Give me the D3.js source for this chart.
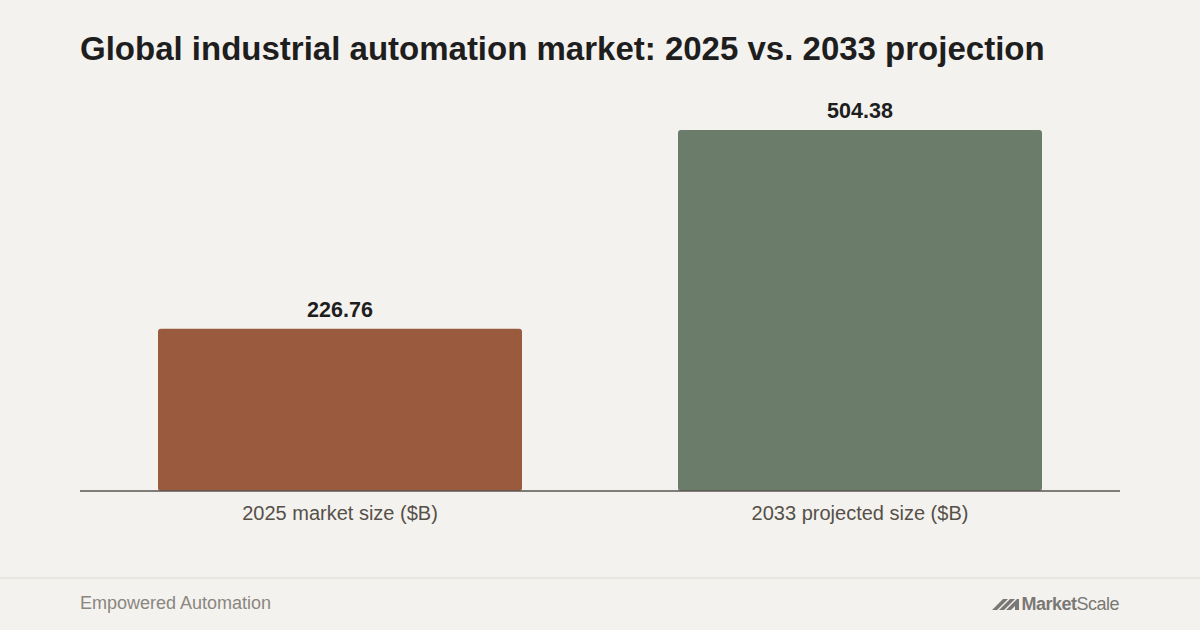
<!DOCTYPE html>
<html><head><meta charset="utf-8">
<script src="https://cdn.jsdelivr.net/npm/d3@7"></script>
<style>html,body{margin:0;padding:0;background:#f4f2ee;}svg{display:block;font-family:"Liberation Sans",Arial,Helvetica,sans-serif;}</style>
</head><body>
<script>
const categories = ["2025 market size ($B)", "2033 projected size ($B)"];
const values = [226.76, 504.38];
const valueLabels = ["226.76", "504.38"];
const colors = ["#9a5a3e", "#6b7d6a"];
const title = "Global industrial automation market: 2025 vs. 2033 projection";
const footerText = "Empowered Automation";

const W = 1200, H = 630;
const svg = d3.select("body").append("svg").attr("width", W).attr("height", H);
svg.append("rect").attr("width", W).attr("height", H).attr("fill", "#f4f2ee");

svg.append("text").attr("x", 80).attr("y", 60).attr("font-size", 33).attr("font-weight", 700)
  .attr("fill", "#1e1e1e").text(title);

const m = {left: 80, right: 1120, top: 94, bottom: 491};
const x = d3.scaleBand().domain(categories).range([m.left, m.right]).paddingInner(0.3).paddingOuter(0.15);
const y = d3.scaleLinear().domain([0, 554.8]).range([m.bottom, m.top]);

const data = categories.map((c, i) => ({c, v: values[i], l: valueLabels[i], col: colors[i]}));

const r = 3;
svg.append("g").selectAll("path").data(data).join("path")
  .attr("fill", d => d.col)
  .attr("d", d => {
    const x0 = x(d.c), x1 = x0 + x.bandwidth(), y0 = y(d.v), y1 = y(0);
    return `M${x0},${y1-r} L${x0},${y0+r} Q${x0},${y0} ${x0+r},${y0} L${x1-r},${y0} Q${x1},${y0} ${x1},${y0+r} L${x1},${y1-r} Q${x1},${y1} ${x1-r},${y1} L${x0+r},${y1} Q${x0},${y1} ${x0},${y1-r} Z`;
  });

svg.append("g").selectAll("text").data(data).join("text")
  .attr("x", d => x(d.c) + x.bandwidth()/2).attr("y", d => y(d.v) - 12)
  .attr("text-anchor", "middle").attr("font-size", 21.5).attr("font-weight", 700).attr("fill", "#1e1e1e")
  .text(d => d.l);

const ax = svg.append("g").attr("transform", `translate(0,${m.bottom})`)
  .call(d3.axisBottom(x).tickSize(0).tickPadding(15));
ax.select(".domain").attr("stroke", "#5a5550").attr("stroke-width", 1.5).attr("d", `M${m.left},0H${m.right}`);
ax.selectAll("text").attr("font-size", 20).attr("fill", "#555049").attr("font-family", "Liberation Sans, Arial, sans-serif");

svg.append("line").attr("x1", 0).attr("x2", W).attr("y1", 578).attr("y2", 578).attr("stroke", "#e5e2dc").attr("stroke-width", 1.5);
svg.append("text").attr("x", 80).attr("y", 609).attr("font-size", 18).attr("fill", "#8a8680").text(footerText);

// logo
const lg = svg.append("g").attr("fill", "#7a7875");
lg.append("path").attr("d", "M992,610 L1003,599 L1008,599 L997,610 Z M999,610 L1010,599 L1015,599 L1004,610 Z M1006,610 L1017,599 L1019,599 L1019,610 L1015,610 L1015,606 L1011,610 Z");
const lt = lg.append("text").attr("x", 1119).attr("y", 610).attr("text-anchor", "end").attr("font-size", 18).attr("letter-spacing", -0.5);
lt.append("tspan").attr("font-weight", 700).text("Market");
lt.append("tspan").attr("font-weight", 400).text("Scale");
</script>
</body></html>
